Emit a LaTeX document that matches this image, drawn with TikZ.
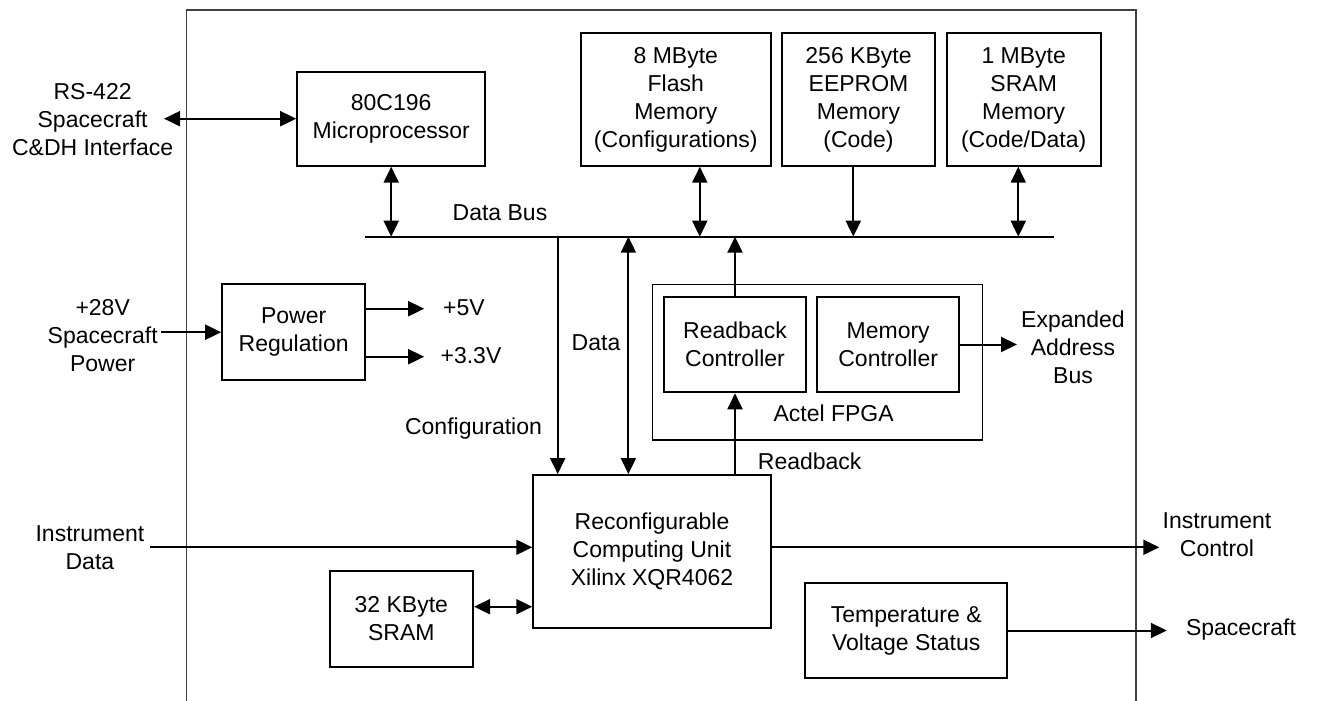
\documentclass[tikz,border=0pt]{standalone}
\usepackage{fontspec}
\setmainfont{Liberation Sans}
\usetikzlibrary{arrows.meta}
\begin{document}
\begin{tikzpicture}[x=1pt,y=-1pt,
  txt/.style={font=\fontsize{23}{28}\selectfont},
  box/.style={draw,line width=2pt,inner sep=0pt,align=center,txt},
  lbl/.style={inner sep=0pt,align=center,txt},
  ln/.style={line width=2pt},
  arr/.style={ln,-{Triangle[length=16pt,width=15pt]}},
  darr/.style={ln,{Triangle[length=16pt,width=15pt]}-{Triangle[length=16pt,width=15pt]}}]
\useasboundingbox (0,0) rectangle (1318,701);
% outer frame
\draw[line width=1.4pt,black!75] (186.5,701) -- (186.5,10) -- (1136,10) -- (1136,701);

% boxes
\node[box,minimum width=188pt,minimum height=94pt] (micro) at (391.2,118.7) {80C196\\Microprocessor};
\node[box,minimum width=190pt,minimum height=132.4pt] (flash) at (675.8,99.5) {8 MByte\\Flash\\Memory\\(Configurations)};
\node[box,minimum width=153.7pt,minimum height=132.4pt] (eeprom) at (858.5,99.5) {256 KByte\\EEPROM\\Memory\\(Code)};
\node[box,minimum width=154pt,minimum height=132.4pt] (sram1) at (1023.7,99.5) {1 MByte\\SRAM\\Memory\\(Code/Data)};
\node[box,minimum width=143pt,minimum height=95.7pt] (power) at (293.7,332.2) {Power\\Regulation};
\node[draw,line width=1.3pt,minimum width=330.3pt,minimum height=155.7pt,inner sep=0pt] (fpga) at (817.3,362.2) {};
\node[box,minimum width=142.2pt,minimum height=95.6pt] (rbc) at (735,344.5) {Readback\\Controller};
\node[box,minimum width=142.3pt,minimum height=95.6pt] (memc) at (888.2,344.5) {Memory\\Controller};
\node[box,minimum width=237.5pt,minimum height=153.3pt] (rcu) at (652,551.7) {Reconfigurable\\Computing Unit\\Xilinx XQR4062};
\node[box,minimum width=143.5pt,minimum height=96pt] (sram32) at (401.3,618.7) {32 KByte\\SRAM};
\node[box,minimum width=201.7pt,minimum height=95.6pt] (temp) at (906.2,630.5) {Temperature \&\\Voltage Status};

% labels
\node[lbl] (rs) at (92.6,119.6) {RS-422\\Spacecraft\\C\&DH Interface};
\node[lbl] (p28) at (102.7,335.5) {+28V\\Spacecraft\\Power};
\node[lbl] (idata) at (89.9,547.5) {Instrument\\Data};
\node[lbl] (ictl) at (1217,535) {Instrument\\Control};
\node[lbl] (eab) at (1073,347) {Expanded\\Address\\Bus};
\node[lbl,anchor=base] (dbus) at (500,220) {Data Bus};
\node[lbl,anchor=base] (l5) at (464,315) {+5V};
\node[lbl,anchor=base] (l33) at (471,363.3) {+3.3V};
\node[lbl,anchor=base] (ldata) at (596,350) {Data};
\node[lbl,anchor=base] (lconf) at (473.5,434.3) {Configuration};
\node[lbl,anchor=base] (lactel) at (833.6,421.7) {Actel FPGA};
\node[lbl,anchor=base] (lrb) at (809.7,469.3) {Readback};
\node[lbl,anchor=base] (lsc) at (1241,635) {Spacecraft};

% coordinates
\coordinate (busL) at (364.5,236.7);
\coordinate (busR) at (1054,236.7);
\coordinate (rsend) at (164,118.7);
\coordinate (p28end) at (161,332.2);
\coordinate (v5) at (424.2,308.7);
\coordinate (v33) at (424.2,356.7);
\coordinate (eabend) at (1017,344.5);
\coordinate (idend) at (150.3,547.3);
\coordinate (icend) at (1159.3,547.3);
\coordinate (scend) at (1166.8,630.5);
\coordinate (confx) at (557.7,236.7);
\coordinate (datax) at (628.4,236.7);

% bus
\draw[ln] (busL) -- (busR);

% connectors
\draw[darr] (rsend) -- (micro.west);
\draw[darr] (micro.south) -- (micro.south |- busL);
\draw[darr] ([xshift=24pt]flash.south) -- ([xshift=24pt]flash.south |- busL);
\draw[arr] ([xshift=-5.2pt]eeprom.south) -- ([xshift=-5.2pt]eeprom.south |- busL);
\draw[darr] ([xshift=-5.4pt]sram1.south) -- ([xshift=-5.4pt]sram1.south |- busL);
\draw[arr] (p28end) -- (power.west);
\draw[arr] (power.east |- v5) -- (v5);
\draw[arr] (power.east |- v33) -- (v33);
\draw[arr] (confx) -- (confx |- rcu.north);
\draw[darr] (datax) -- (datax |- rcu.north);
\draw[arr] (rbc.north) -- (rbc.north |- busL);
\draw[arr] (rbc.south |- rcu.north) -- (rbc.south);
\draw[arr] (memc.east) -- (eabend);
\draw[arr] (idend) -- (idend -| rcu.west);
\draw[arr] (rcu.east |- icend) -- (icend);
\draw[darr] ([yshift=12pt]sram32.east) -- ([yshift=12pt]sram32.east -| rcu.west);
\draw[arr] (temp.east) -- (scend);
\end{tikzpicture}
\end{document}
